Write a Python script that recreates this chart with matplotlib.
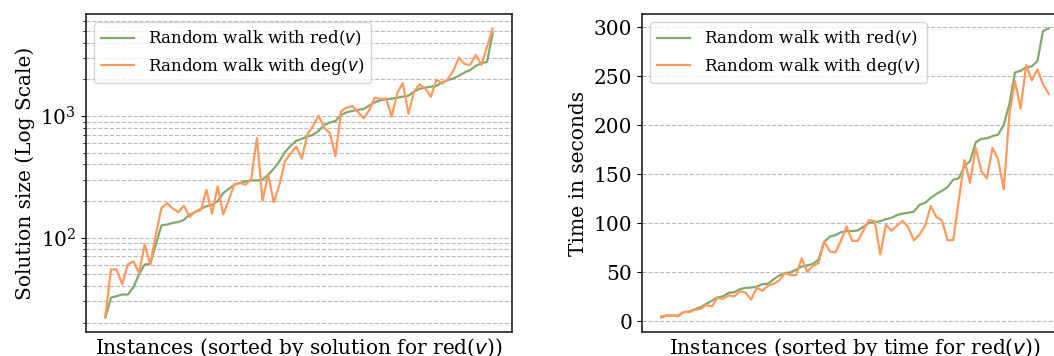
import matplotlib
matplotlib.use('Agg')
import matplotlib.pyplot as plt
import numpy as np

plt.rcParams['font.family'] = ['DejaVu Serif']

# Solution size (left panel, log scale)
size_red = [22, 32, 33, 34, 34, 39, 50, 60, 61, 88,
            126, 128, 132, 134, 140, 154, 162, 172, 181, 186,
            199, 232, 252, 272, 281, 290, 295, 295, 299, 328,
            368, 423, 504, 568, 624, 648, 678, 699, 754, 844,
            882, 910, 1019, 1072, 1099, 1120, 1141, 1215, 1295, 1343,
            1370, 1387, 1413, 1440, 1468, 1583, 1675, 1708, 1740, 1773,
            1888, 1973, 2036, 2141, 2282, 2384, 2587, 2704, 2788, 4766]
size_deg = [22.6, 54.7, 54.7, 41.2, 60.1, 64, 51.3, 87.7, 60, 106,
            175, 192, 173, 162, 183, 147, 164, 167, 247, 157,
            263, 155, 205, 275, 281, 272, 305, 660, 201, 330,
            195, 270, 425, 490, 560, 446, 708, 828, 1003, 798,
            725, 467, 1092, 1171, 1208, 1075, 957, 1110, 1413, 1380,
            1398, 985, 1543, 1864, 1040, 1593, 1820, 1680, 1436, 1986,
            1846, 2005, 2362, 3015, 2670, 2635, 3180, 2630, 3700, 5240]

# Time in seconds (right panel)
time_red = [5.1, 6.1, 6.1, 6.1, 9.5, 10.2, 12.5, 14.6, 18, 21,
            24.5, 25.7, 29.2, 29.8, 33, 34.3, 34.6, 35.5, 38, 38.4,
            43, 46.9, 49.3, 50, 52.7, 56, 57.1, 58.8, 63, 81,
            86.5, 88, 91, 92, 92.2, 92.8, 96.5, 100.5, 101, 102.3,
            104.2, 105.7, 108.5, 110, 110.8, 112, 119, 121, 126, 130,
            133.2, 137, 144.5, 146, 158.5, 163.4, 182.5, 186.2, 186.7, 189,
            190.5, 200.3, 221.5, 253.8, 255.5, 259.2, 260, 265.4, 296, 298.7]
time_deg = [4.0, 6.1, 6.1, 5.1, 9.8, 9.5, 12, 12.9, 16.8, 15.3,
            24.1, 23.1, 26.5, 25.5, 30.8, 29.4, 22.2, 34.6, 31.2, 36.5,
            38.4, 41.8, 49.3, 47.4, 47, 64.4, 50.5, 56.7, 59.6, 81.5,
            71.5, 70.3, 82.6, 96.8, 82.2, 82.2, 92.8, 103.3, 102.3, 68.3,
            98.7, 92.4, 97.9, 102.6, 95.8, 82.6, 88.5, 97.9, 117.7, 106.4,
            103, 82.6, 83.2, 124, 164.5, 141.4, 177, 153.2, 145.8, 177,
            165.1, 134.6, 211, 245, 217.1, 261.3, 245.7, 256.9, 241.6, 232]

labels = ['Random walk with red($v$)', 'Random walk with deg($v$)']
xlabels = ['Instances (sorted by solution for red($v$))',
           'Instances (sorted by time for red($v$))']
ylabels = ['Solution size (Log Scale)', 'Time in seconds']

GREEN = '#82a96b'
ORANGE = '#ff9a5e'
FS = 14.5

W, H = 1054, 356
fig = plt.figure(figsize=(W / 100, H / 100), dpi=100)
ax1 = fig.add_axes([86 / W, 24 / H, 426 / W, 318 / H])
ax2 = fig.add_axes([642 / W, 24 / H, 426 / W, 318 / H])

for ax, red, deg, xl, yl in [(ax1, size_red, size_deg, xlabels[0], ylabels[0]),
                             (ax2, time_red, time_deg, xlabels[1], ylabels[1])]:
    x = np.arange(len(red))
    ax.plot(x, red, color=GREEN, lw=1.6, label=labels[0])
    ax.plot(x, deg, color=ORANGE, lw=1.6, label=labels[1])
    ax.set_xticks([])
    ax.set_xlabel(xl, fontsize=FS, labelpad=3)
    ax.set_ylabel(yl, fontsize=FS)
    ax.tick_params(axis='y', labelsize=FS)
    for s in ax.spines.values():
        s.set_linewidth(1.2)
        s.set_color('#222222')
    ax.legend(loc='upper left', fontsize=12, labelspacing=0.45)

ax1.set_yscale('log')
ax1.grid(True, which='both', axis='y', ls='--', color='#bbbbbb', lw=0.8)
ax2.grid(True, which='major', axis='y', ls='--', color='#bbbbbb', lw=0.8)
ax1.set_axisbelow(True)
ax2.set_axisbelow(True)

fig.savefig('out.png', dpi=100)
